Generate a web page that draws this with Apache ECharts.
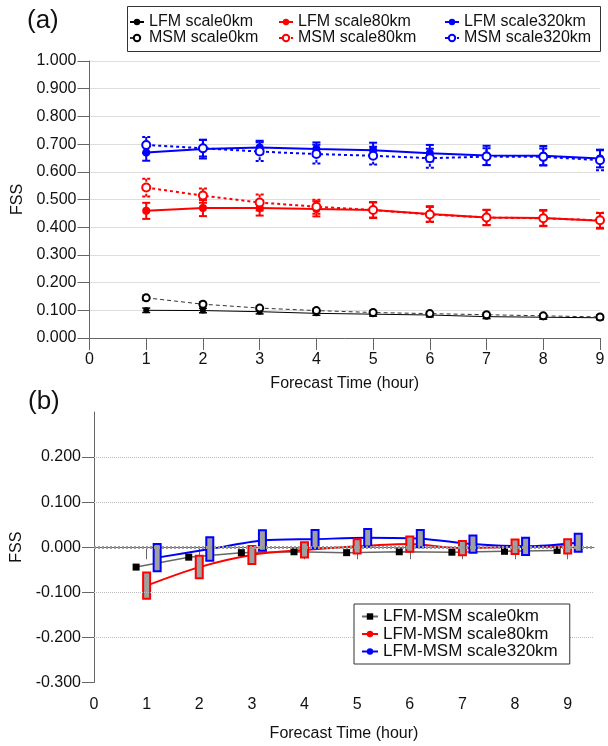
<!DOCTYPE html>
<html><head><meta charset="utf-8">
<script src="https://cdn.jsdelivr.net/npm/echarts@6/dist/echarts.min.js"></script>
<style>html,body{margin:0;padding:0;background:#fff}#c{width:608px;height:746px}</style>
</head><body><div id="c"></div>
<script>
// ---------- data ----------
const hours = [1,2,3,4,5,6,7,8,9];
const fssTicks = [0,0.1,0.2,0.3,0.4,0.5,0.6,0.7,0.8,0.9,1.0];
const lfm0 = [0.100,0.099,0.095,0.089,0.086,0.083,0.077,0.075,0.073];
const lfm0Err = [0.008,0.008,0.008,0.007,0.007,0.007,0.007,0.007,0.007];
const msm0 = [0.145,0.122,0.108,0.099,0.092,0.088,0.084,0.080,0.076];
const msm0Err = [0.010,0.009,0.008,0.008,0.008,0.008,0.007,0.007,0.007];
const lfm80 = [0.459,0.469,0.469,0.466,0.462,0.448,0.435,0.433,0.423];
const lfm80Err = [0.029,0.029,0.027,0.027,0.029,0.028,0.028,0.029,0.028];
const msm80 = [0.543,0.514,0.489,0.474,0.462,0.446,0.435,0.432,0.425];
const msm80Err = [0.032,0.026,0.029,0.025,0.027,0.027,0.027,0.027,0.027];
const lfm320 = [0.670,0.682,0.688,0.682,0.678,0.667,0.659,0.658,0.648];
const lfm320Err = [0.030,0.034,0.024,0.024,0.027,0.030,0.035,0.035,0.032];
const msm320 = [0.697,0.685,0.673,0.664,0.658,0.649,0.655,0.654,0.642];
const msm320Err = [0.029,0.030,0.034,0.034,0.032,0.034,0.030,0.030,0.036];

const diffTicks = [-0.3,-0.2,-0.1,0,0.1,0.2];
const hourTicksB = [0,1,2,3,4,5,6,7,8,9];
const diff0 = [-0.044,-0.022,-0.012,-0.010,-0.012,-0.010,-0.011,-0.009,-0.007];
const diff80 = [-0.085,-0.044,-0.017,-0.006,0.002,0.007,-0.002,0.001,0.002];
const diff80Err = [0.029,0.025,0.020,0.017,0.016,0.017,0.016,0.016,0.016];
const diff320 = [-0.023,-0.004,0.015,0.018,0.021,0.019,0.007,0.002,0.010];
const diff320Err = [0.030,0.026,0.0225,0.020,0.0195,0.019,0.019,0.019,0.020];

// ---------- helpers ----------
const FONT = "'Liberation Sans', Arial, sans-serif";
const RED = '#ff0000', BLUE = '#0000ff';
const pts = (vals, off) => hours.map((h, i) => [h + (off || 0), vals[i]]);
const ptsErr = (vals, errs, off) => hours.map((h, i) => [h + (off || 0), vals[i], errs[i]]);

function errBar(name, vals, errs, color, width, dash) {
  return {
    type: 'custom', name: name, xAxisIndex: 0, yAxisIndex: 0, z: 3,
    encode: {x: 0, y: 1}, silent: true,
    data: ptsErr(vals, errs),
    renderItem: function (params, api) {
      const x = api.value(0), y = api.value(1), e = api.value(2);
      const t = api.coord([x, y + e]), b = api.coord([x, y - e]);
      const hw = 4;
      const st = () => ({stroke: color, lineWidth: width, lineDash: dash || null, fill: null});
      return {type: 'group', children: [
        {type: 'line', shape: {x1: t[0], y1: t[1], x2: b[0], y2: b[1]}, style: st()},
        {type: 'line', shape: {x1: t[0]-hw, y1: t[1], x2: t[0]+hw, y2: t[1]}, style: st()},
        {type: 'line', shape: {x1: b[0]-hw, y1: b[1], x2: b[0]+hw, y2: b[1]}, style: st()}
      ]};
    }
  };
}
function boxes(name, vals, errs, off, color) {
  return {
    type: 'custom', name: name, xAxisIndex: 1, yAxisIndex: 1, z: 4,
    encode: {x: 0, y: 1}, silent: true,
    data: ptsErr(vals, errs, off),
    renderItem: function (params, api) {
      const x = api.value(0), y = api.value(1), e = api.value(2);
      const t = api.coord([x, y + e]), b = api.coord([x, y - e]);
      const w = 7;
      return {type: 'rect', shape: {x: t[0]-w/2, y: t[1], width: w, height: b[1]-t[1]},
         style: {fill: '#a0a0a0', stroke: color, lineWidth: 2}};
    }
  };
}
const axisLabelStyle = {color: '#111', fontSize: 16, fontFamily: FONT};
const axisLineStyle = {lineStyle: {color: '#666', width: 1}};
const gridLineStyle = {color: '#bbb', type: 'dotted', width: 1};
const legendText = (fs, lh) => ({fontSize: fs, lineHeight: lh, color: '#111', fontFamily: FONT});

const option = {
  animation: false,
  backgroundColor: '#fff',
  textStyle: {fontFamily: FONT},
  grid: [
    {left: 89.5, right: 8, top: 61, height: 277},
    {left: 94, right: 14, top: 412, height: 270.5}
  ],
  xAxis: [
    {type: 'value', gridIndex: 0, min: 0, max: 9, interval: 1,
     name: 'Forecast Time (hour)', nameLocation: 'middle', nameGap: 38,
     nameTextStyle: {fontSize: 16, color: '#111', fontFamily: FONT},
     axisLine: axisLineStyle, axisTick: {length: 12, lineStyle: {color: '#666'}},
     axisLabel: Object.assign({margin: 14}, axisLabelStyle), splitLine: {show: false}},
    {type: 'value', gridIndex: 1, min: 0, max: 9.5,
     name: 'Forecast Time (hour)', nameLocation: 'middle', nameGap: 43,
     nameTextStyle: {fontSize: 16, color: '#111', fontFamily: FONT},
     axisLine: axisLineStyle,
     axisTick: {length: 12, lineStyle: {color: '#666'}, customValues: hourTicksB},
     axisLabel: Object.assign({margin: 14, customValues: hourTicksB}, axisLabelStyle), splitLine: {show: false}}
  ],
  yAxis: [
    {type: 'value', gridIndex: 0, min: 0, max: 1, interval: 0.1,
     name: 'FSS', nameLocation: 'middle', nameGap: 60,
     nameTextStyle: {fontSize: 16, color: '#111', fontFamily: FONT},
     axisLine: {show: true, lineStyle: {color: '#666', width: 1}},
     axisTick: {show: true, length: 12, lineStyle: {color: '#666'}},
     axisLabel: Object.assign({margin: 13, formatter: v => v.toFixed(3)}, axisLabelStyle),
     splitLine: {show: true, lineStyle: gridLineStyle}},
    {type: 'value', gridIndex: 1, min: -0.3, max: 0.3,
     name: 'FSS', nameLocation: 'middle', nameGap: 65,
     nameTextStyle: {fontSize: 16, color: '#111', fontFamily: FONT},
     axisLine: {show: true, lineStyle: {color: '#666', width: 1}},
     axisTick: {show: true, length: 12, lineStyle: {color: '#666'}, customValues: diffTicks},
     axisLabel: Object.assign({margin: 13, customValues: diffTicks, formatter: v => v.toFixed(3)}, axisLabelStyle),
     splitLine: {show: false}}
  ],
  legend: [
    {left: 129, top: 14, orient: 'vertical', padding: 0, itemGap: 0, itemWidth: 14, itemHeight: 8, z: 6,
     textStyle: legendText(16, 14), data: ['LFM scale0km', 'MSM scale0km']},
    {left: 278, top: 14, orient: 'vertical', padding: 0, itemGap: 0, itemWidth: 14, itemHeight: 8, z: 6,
     textStyle: legendText(16, 14), data: ['LFM scale80km', 'MSM scale80km']},
    {left: 444, top: 14, orient: 'vertical', padding: 0, itemGap: 0, itemWidth: 14, itemHeight: 8, z: 6,
     textStyle: legendText(16, 14), data: ['LFM scale320km', 'MSM scale320km']},
    {left: 354, top: 604, orient: 'vertical', padding: [4, 12, 4, 7], itemGap: 0.5, itemWidth: 16, itemHeight: 8, z: 20,
     backgroundColor: '#fff', borderColor: '#333', borderWidth: 1, borderRadius: 0,
     textStyle: legendText(17, 17), data: ['LFM-MSM scale0km', 'LFM-MSM scale80km', 'LFM-MSM scale320km']}
  ],
  graphic: [
    {type: 'rect', left: 127, top: 6, z: 1, shape: {width: 473, height: 45}, style: {fill: '#fff', stroke: '#333', lineWidth: 1}},
    {type: 'text', left: 27, top: 8, style: {text: '(a)', fontSize: 26, fontFamily: FONT, fill: '#111'}},
    {type: 'text', left: 28, top: 389, style: {text: '(b)', fontSize: 26, fontFamily: FONT, fill: '#111'}}
  ],
  series: [
    // panel (a)
    {type: 'line', name: 'LFM scale0km', xAxisIndex: 0, yAxisIndex: 0, data: pts(lfm0), z: 4,
     symbol: 'circle', symbolSize: 6, itemStyle: {color: '#000'}, lineStyle: {color: '#000', width: 1}},
    {type: 'line', name: 'MSM scale0km', xAxisIndex: 0, yAxisIndex: 0, data: pts(msm0), z: 4,
     symbol: 'emptyCircle', symbolSize: 7, itemStyle: {color: '#000', borderWidth: 1.5},
     lineStyle: {color: '#333', width: 1, type: [4, 3]}},
    {type: 'line', name: 'LFM scale80km', xAxisIndex: 0, yAxisIndex: 0, data: pts(lfm80), z: 4,
     symbol: 'circle', symbolSize: 8, itemStyle: {color: RED}, lineStyle: {color: RED, width: 2}},
    {type: 'line', name: 'MSM scale80km', xAxisIndex: 0, yAxisIndex: 0, data: pts(msm80), z: 4,
     symbol: 'emptyCircle', symbolSize: 8, itemStyle: {color: RED, borderWidth: 2},
     lineStyle: {color: RED, width: 2, type: [3, 3]}},
    {type: 'line', name: 'LFM scale320km', xAxisIndex: 0, yAxisIndex: 0, data: pts(lfm320), z: 4,
     symbol: 'circle', symbolSize: 8, itemStyle: {color: BLUE}, lineStyle: {color: BLUE, width: 2}},
    {type: 'line', name: 'MSM scale320km', xAxisIndex: 0, yAxisIndex: 0, data: pts(msm320), z: 4,
     symbol: 'emptyCircle', symbolSize: 8, itemStyle: {color: BLUE, borderWidth: 2},
     lineStyle: {color: BLUE, width: 2, type: [3, 3]}},
    errBar('e0', lfm0, lfm0Err, '#000', 1.5),
    errBar('e0m', msm0, msm0Err, '#000', 1, [2, 2]),
    errBar('e80', lfm80, lfm80Err, RED, 2),
    errBar('e80m', msm80, msm80Err, RED, 2, [3, 2]),
    errBar('e320', lfm320, lfm320Err, BLUE, 2),
    errBar('e320m', msm320, msm320Err, BLUE, 2, [3, 2]),
    // panel (b)
    {type: 'line', name: 'LFM-MSM scale0km', xAxisIndex: 1, yAxisIndex: 1, data: pts(diff0, -0.2), z: 3,
     symbol: 'rect', symbolSize: 7, itemStyle: {color: '#000'}, lineStyle: {color: '#666', width: 1.5},
     markLine: {silent: true, symbol: 'none', label: {show: false},
       data: diffTicks.filter(v => v !== 0 && v !== -0.3).map(v => ({yAxis: v, lineStyle: {color: '#bbb', type: 'dotted', width: 1}}))
         .concat([{yAxis: 0, lineStyle: {color: '#999', type: [2, 2], width: 3}}])}},
    {type: 'line', name: 'LFM-MSM scale80km', xAxisIndex: 1, yAxisIndex: 1, data: pts(diff80, 0), z: 3, smooth: 0.3,
     symbol: 'circle', symbolSize: 5, itemStyle: {color: RED}, lineStyle: {color: RED, width: 2}},
    {type: 'line', name: 'LFM-MSM scale320km', xAxisIndex: 1, yAxisIndex: 1, data: pts(diff320, 0.2), z: 3, smooth: 0.3,
     symbol: 'circle', symbolSize: 5, itemStyle: {color: BLUE}, lineStyle: {color: BLUE, width: 2}},
    boxes('b80', diff80, diff80Err, 0, RED),
    boxes('b320', diff320, diff320Err, 0.2, BLUE)
  ]
};
const chart = echarts.init(document.getElementById('c'), null, {renderer: 'canvas'});
chart.setOption(option);
</script></body></html>
